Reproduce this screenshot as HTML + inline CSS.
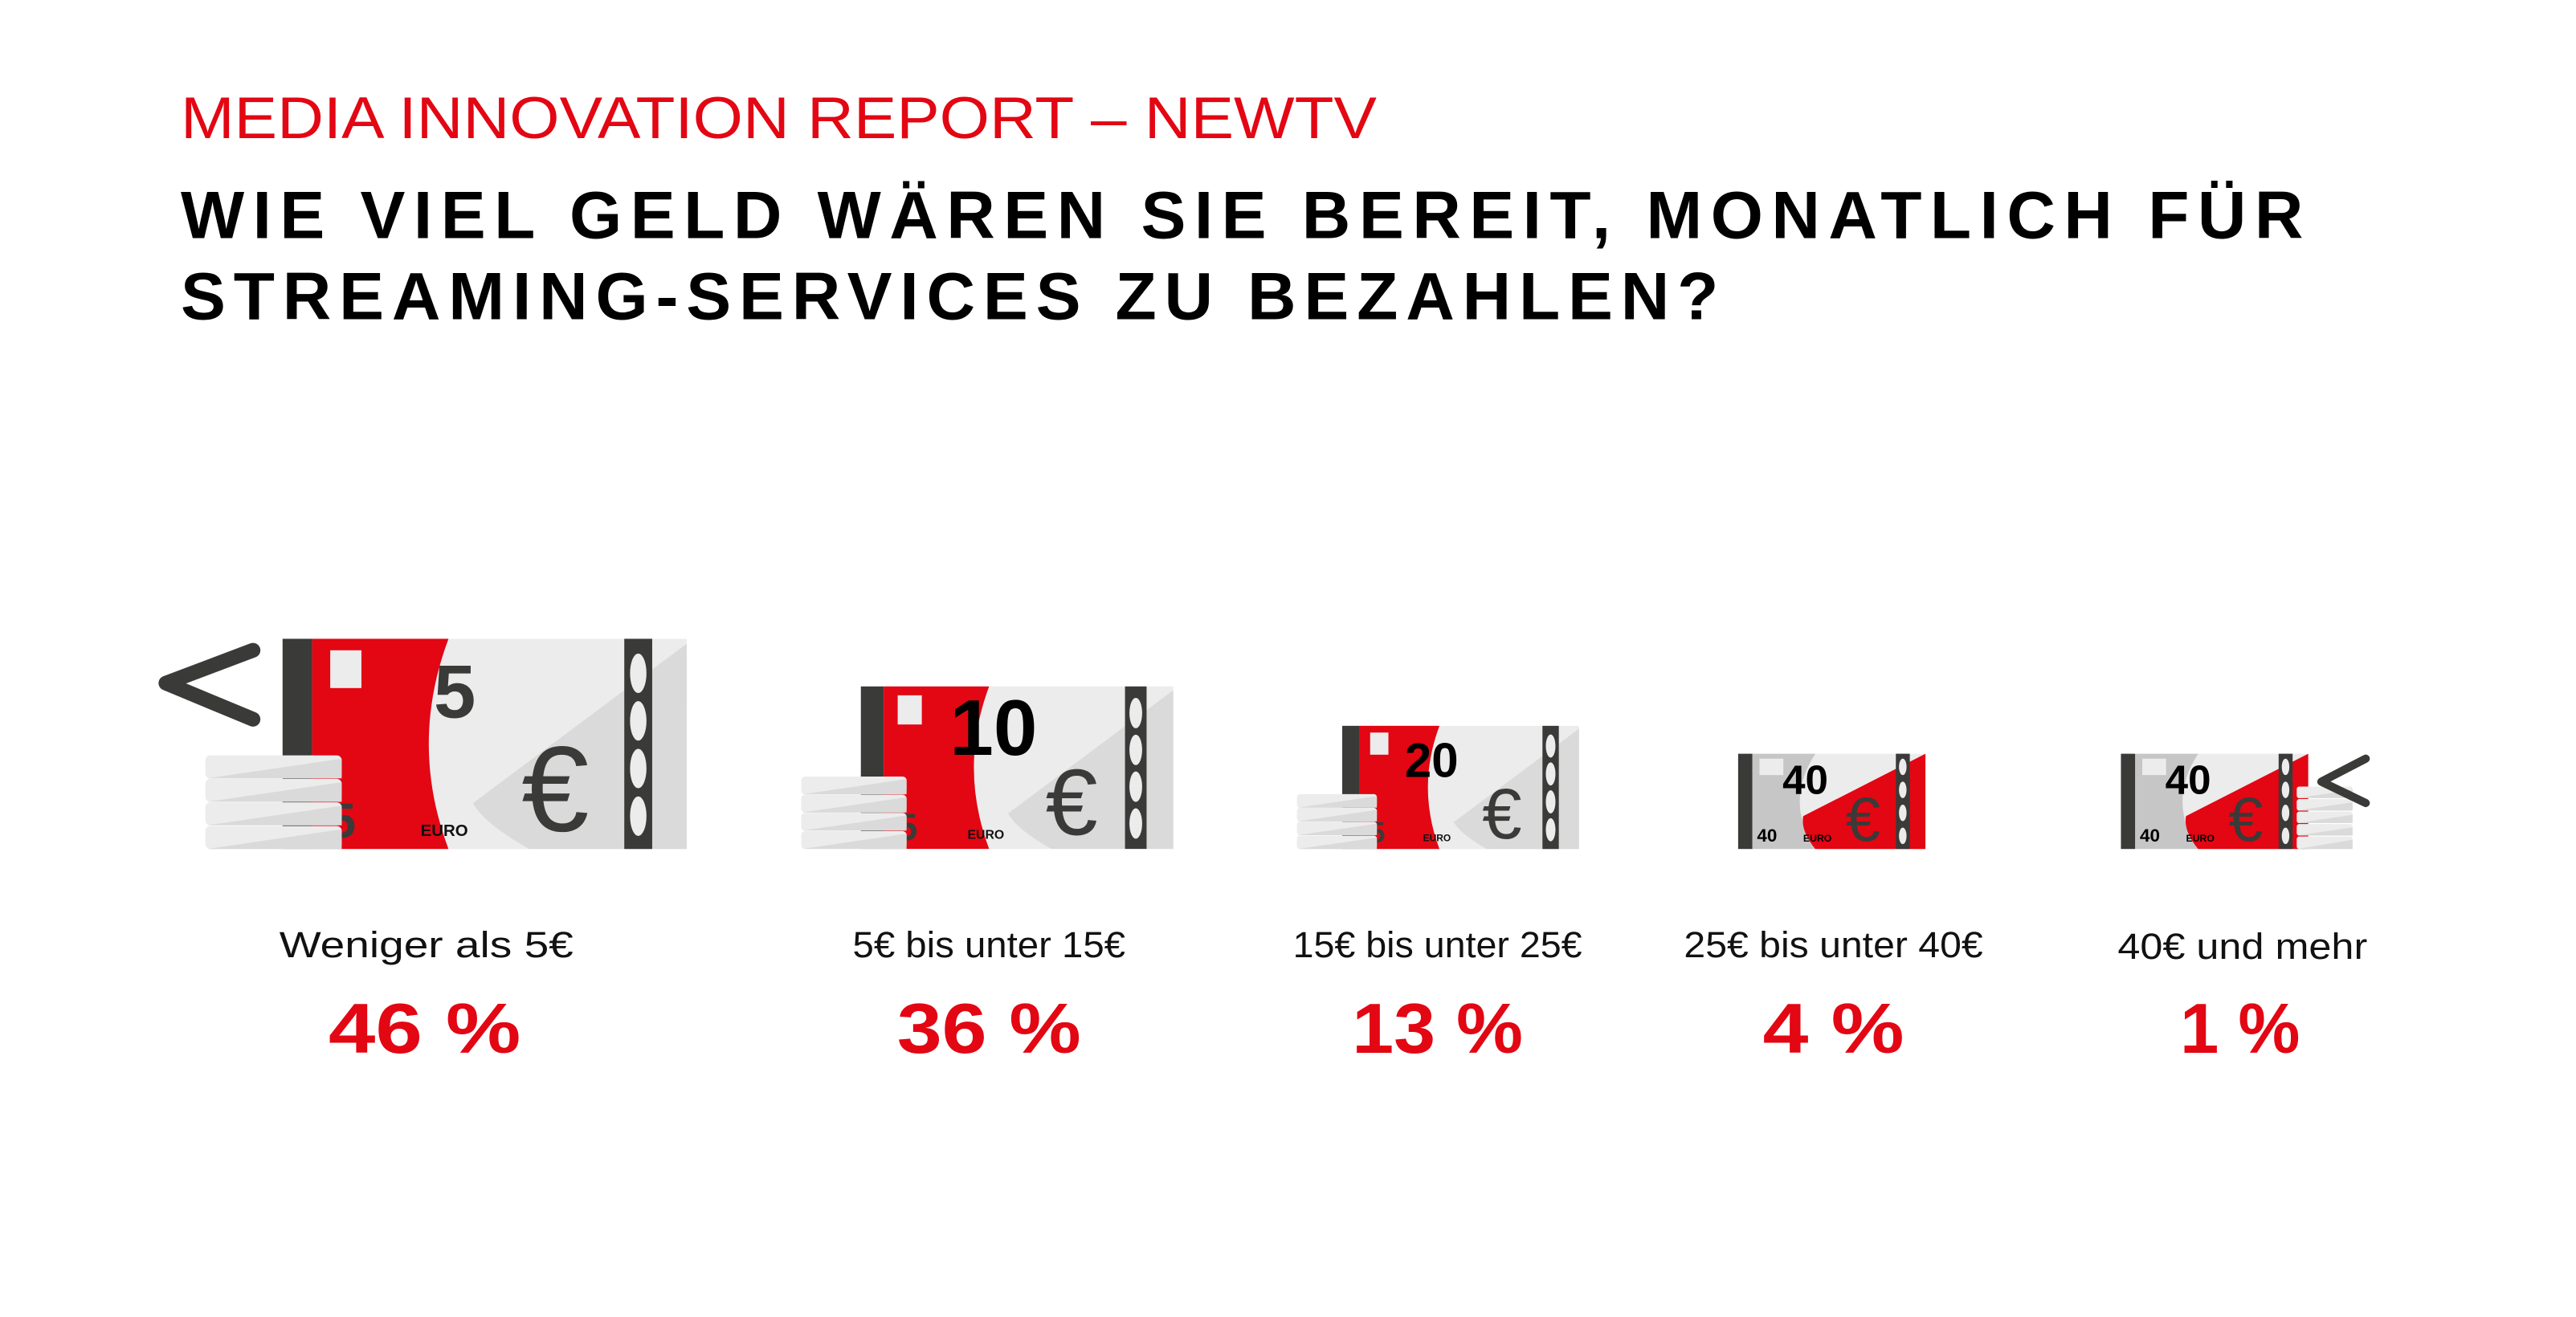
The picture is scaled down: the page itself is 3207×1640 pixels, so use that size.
<!DOCTYPE html>
<html><head><meta charset="utf-8"><style>
html,body{margin:0;padding:0;background:#fff}
svg{display:block}
</style></head><body>
<svg width="3207" height="1640" viewBox="0 0 1568 802" preserveAspectRatio="none" xmlns="http://www.w3.org/2000/svg" font-family="'Liberation Sans', sans-serif">
<defs>
<g id="coins">
  <g>
    <rect x="-47" y="71" width="83" height="14" rx="3" fill="#ececec"/>
    <polygon points="-46,85 36,73 36,85" fill="#dadada"/>
    <rect x="-47" y="85.3" width="83" height="14" rx="3" fill="#ececec"/>
    <polygon points="-46,99.3 36,87.3 36,99.3" fill="#dadada"/>
    <rect x="-47" y="99.6" width="83" height="14" rx="3" fill="#ececec"/>
    <polygon points="-46,113.6 36,101.6 36,113.6" fill="#dadada"/>
    <rect x="-47" y="114" width="83" height="14" rx="3" fill="#ececec"/>
    <polygon points="-46,128 36,116 36,128" fill="#dadada"/>
  </g>
</g>
<g id="note">
  <rect x="0" y="0" width="18" height="128" fill="#3a3a38"/>
  <rect x="18" y="0" width="83" height="128" fill="#e30613"/>
  <path d="M101,0 H246 V128 H101 Q77,64 101,0 Z" fill="#ececec"/>
  <path d="M246,3 L246,128 L150,128 Q122,112 116,100 Z" fill="#dadada"/>
  <rect x="29" y="7" width="19" height="23" fill="#ececec"/>
  <rect x="208" y="0" width="17" height="128" fill="#3a3a38"/>
  <ellipse cx="216.5" cy="21" rx="5" ry="12" fill="#ececec"/>
  <ellipse cx="216.5" cy="50" rx="5" ry="12" fill="#ececec"/>
  <ellipse cx="216.5" cy="79" rx="5" ry="12" fill="#ececec"/>
  <ellipse cx="216.5" cy="108" rx="5" ry="12" fill="#ececec"/>
  <text x="166" y="117" font-size="74" fill="#3a3a38" text-anchor="middle">€</text>
  <text x="84" y="120" font-size="10" font-weight="bold" fill="#111">EURO</text>
  <text x="28" y="121" font-size="30" font-weight="bold" fill="#3a3a38">5</text>
  <use href="#coins"/>
</g>
<g id="small">
  <rect x="0" y="0" width="8.7" height="58" fill="#3a3a38"/>
  <rect x="8.7" y="0" width="38.3" height="58" fill="#c6c6c6"/>
  <path d="M47,0 H114 V58 H47 Q28,29 47,0 Z" fill="#ececec"/>
  <path d="M114,0 L114,58 L47,58 Q38,47 39.6,38 Z" fill="#e30613"/>
  <rect x="13" y="3" width="14.5" height="10" fill="#ececec"/>
  <rect x="96" y="0" width="8.5" height="58" fill="#3a3a38"/>
  <ellipse cx="100.2" cy="8" rx="2.3" ry="5" fill="#ececec"/>
  <ellipse cx="100.2" cy="22" rx="2.3" ry="5" fill="#ececec"/>
  <ellipse cx="100.2" cy="36" rx="2.3" ry="5" fill="#ececec"/>
  <ellipse cx="100.2" cy="50" rx="2.3" ry="5" fill="#ececec"/>
  <text x="27" y="24.4" font-size="25" font-weight="bold" fill="#000">40</text>
  <text x="11.5" y="53.5" font-size="11" font-weight="bold" fill="#000">40</text>
  <text x="39.6" y="53.5" font-size="6" font-weight="bold" fill="#000">EURO</text>
  <text x="76" y="53" font-size="38" fill="#3a3a38" text-anchor="middle">€</text>
</g>
</defs>

<text x="110" y="84" font-size="36" fill="#e30613" textLength="728" lengthAdjust="spacingAndGlyphs">MEDIA INNOVATION REPORT – NEWTV</text>
<text x="110" y="145" font-size="41" font-weight="bold" fill="#000" textLength="1292" lengthAdjust="spacing">WIE VIEL GELD WÄREN SIE BEREIT, MONATLICH FÜR</text>
<text x="110" y="194.5" font-size="41" font-weight="bold" fill="#000" textLength="936" lengthAdjust="spacing">STREAMING-SERVICES ZU BEZAHLEN?</text>

<g transform="translate(172,389)">
  <use href="#note"/>
  <text x="92" y="48" font-size="46" font-weight="bold" fill="#3a3a38">5</text>
</g>
<path d="M154,396 L101,416 L154,438" fill="none" stroke="#3a3a38" stroke-width="9" stroke-linecap="round" stroke-linejoin="round"/>

<g transform="translate(524,418) scale(0.773)">
  <use href="#note"/>
  <text x="70" y="54" font-size="62" font-weight="bold" fill="#000">10</text>
</g>

<g transform="translate(817,442) scale(0.586)">
  <use href="#note"/>
  <text x="65" y="53" font-size="50" font-weight="bold" fill="#000">20</text>
</g>

<g transform="translate(1058,459)"><use href="#small"/></g>
<g transform="translate(1291,459)"><use href="#small"/></g>
<g>
  <rect x="1398" y="479" width="34" height="7" rx="1.5" fill="#ececec"/><polygon points="1398,486 1432,481 1432,486" fill="#dadada"/>
  <rect x="1398" y="486.6" width="34" height="7" rx="1.5" fill="#ececec"/><polygon points="1398,493.6 1432,488.6 1432,493.6" fill="#dadada"/>
  <rect x="1398" y="494.2" width="34" height="7" rx="1.5" fill="#ececec"/><polygon points="1398,501.2 1432,496.2 1432,501.2" fill="#dadada"/>
  <rect x="1398" y="501.8" width="34" height="7" rx="1.5" fill="#ececec"/><polygon points="1398,508.8 1432,503.8 1432,508.8" fill="#dadada"/>
  <rect x="1398" y="509.4" width="34" height="7.6" rx="1.5" fill="#ececec"/><polygon points="1398,517 1432,511.4 1432,517" fill="#dadada"/>
</g>
<path d="M1440,462 L1413,476 L1440,489" fill="none" stroke="#3a3a38" stroke-width="5" stroke-linecap="round" stroke-linejoin="round"/>

<g font-size="22" fill="#111">
  <text x="170" y="583" textLength="179" lengthAdjust="spacingAndGlyphs">Weniger als 5€</text>
  <text x="519" y="583" textLength="166" lengthAdjust="spacingAndGlyphs">5€ bis unter 15€</text>
  <text x="787" y="583" textLength="176" lengthAdjust="spacingAndGlyphs">15€ bis unter 25€</text>
  <text x="1025" y="583" textLength="182" lengthAdjust="spacingAndGlyphs">25€ bis unter 40€</text>
  <text x="1289" y="584" textLength="152" lengthAdjust="spacingAndGlyphs">40€ und mehr</text>
</g>
<g font-size="43" font-weight="bold" fill="#e30613">
  <text x="200" y="641" textLength="117" lengthAdjust="spacingAndGlyphs">46 %</text>
  <text x="546" y="641" textLength="112" lengthAdjust="spacingAndGlyphs">36 %</text>
  <text x="823" y="641" textLength="104" lengthAdjust="spacingAndGlyphs">13 %</text>
  <text x="1073" y="641" textLength="86" lengthAdjust="spacingAndGlyphs">4 %</text>
  <text x="1327" y="641" textLength="73" lengthAdjust="spacingAndGlyphs">1 %</text>
</g>
</svg>
</body></html>
